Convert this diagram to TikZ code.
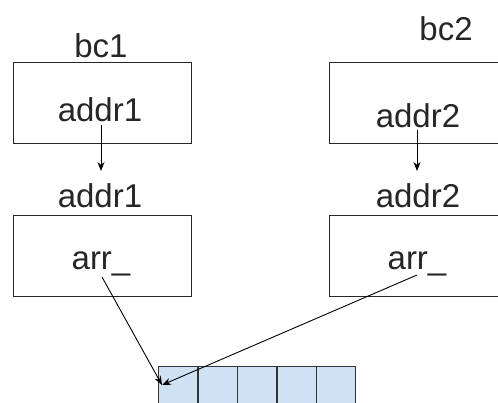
\documentclass[tikz,border=0pt]{standalone}
\usepackage{fontspec}
\setmainfont{Liberation Sans}
\usetikzlibrary{arrows.meta}
\definecolor{cellblue}{HTML}{CFE2F3}
\begin{document}
\begin{tikzpicture}[x=1pt,y=-1pt,
  box/.style={draw=black!85,line width=1.3pt,minimum width=178pt,minimum height=81pt,inner sep=0pt,anchor=north west},
  cell/.style={draw=black!80,line width=1.3pt,fill=cellblue,minimum width=39.4pt,minimum height=60pt,inner sep=0pt,anchor=north west},
  lbl/.style={font=\fontsize{33}{36}\selectfont,inner sep=0pt,text=black!85},
  conn/.style={line width=0.9pt,-{Stealth[length=9pt,width=7pt]}}]
\useasboundingbox (0,0) rectangle (498,403);
\clip (0,0) rectangle (498,403);
% top row
\node[box] (b1) at (13,62) {};
\node[box] (b2) at (329,62) {};
\node[lbl] (bc1) at (101,46) {bc1};
\node[lbl] (bc2) at (446,29) {bc2};
\node[lbl] (a1) at (100,110) {addr1};
\node[lbl] (a2) at (418,116) {addr2};
% second row
\node[box] (b3) at (13,215) {};
\node[box] (b4) at (329,215) {};
\node[lbl] (l3) at (100,196) {addr1};
\node[lbl] (l4) at (418,196) {addr2};
\node[lbl] (r1) at (101,264) {arr\_};
\node[lbl] (r2) at (417,264) {arr\_};
% array
\foreach \i in {0,...,4} {
  \node[cell] (c\i) at ({158+39.4*\i},366) {};
}
% connectors
\coordinate (s1) at (101,125);
\coordinate (e1) at (101,171);
\coordinate (s2) at (417,130);
\coordinate (e2) at (417,171);
\coordinate (s3) at (102,277);
\coordinate (s4) at (417,275);
\coordinate (t) at (162,385);
\draw[conn] (s1) -- (e1);
\draw[conn] (s2) -- (e2);
\draw[conn] (s3) -- (t);
\draw[conn] (s4) -- (t);
\end{tikzpicture}
\end{document}
